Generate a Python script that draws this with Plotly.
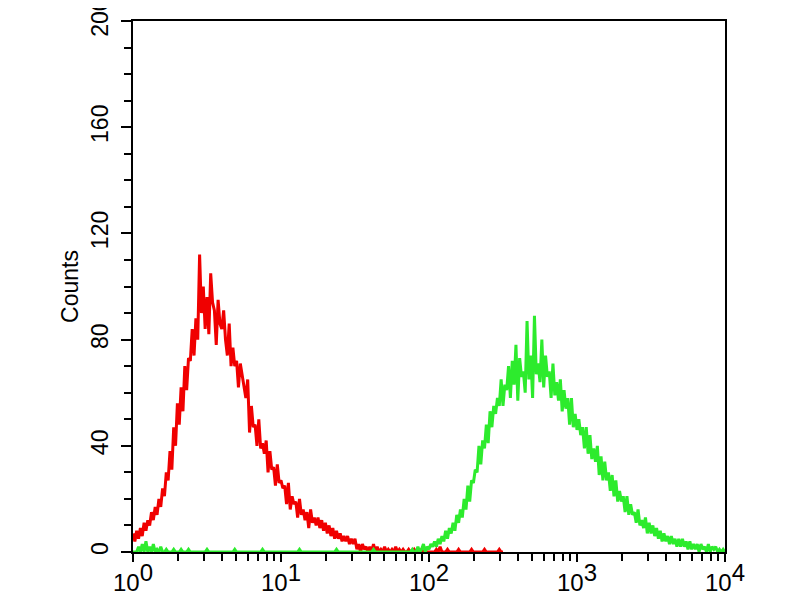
import plotly.graph_objects as go

# Histogram channels: 80 channels per decade, channel index -> intensity 10**(i/80)
channels_per_decade = 80

# Red histogram counts, channels 0..200
red_counts = [
    7, 4, 8, 5, 9, 6, 11, 8, 12, 10, 15, 12, 17, 14, 20, 17, 24, 21, 30, 27,
    38, 31, 47, 40, 56, 48, 62, 53, 70, 61, 73, 72, 84, 74, 88, 80, 112, 90, 100, 84,
    96, 82, 105, 94, 91, 78, 95, 86, 84, 91, 80, 74, 86, 70, 77, 70, 72, 62, 71, 66,
    63, 58, 65, 45, 55, 47, 48, 40, 50, 39, 41, 37, 42, 30, 38, 31, 32, 25, 33, 26,
    27, 24, 25, 18, 26, 16, 21, 18, 19, 13, 20, 14, 16, 12, 15, 9, 16, 11, 13, 10,
    13, 9, 12, 8, 11, 7, 10, 6, 9, 5, 8, 5, 7, 4, 6, 4, 6, 3, 5, 3,
    5, 1, 3, 0, 3, 1, 2, 0, 2, 0, 3, 0, 2, 0, 1, 0, 2, 0, 1, 0,
    1, 0, 2, 0, 1, 0, 1, 0, 0, 1, 0, 0, 1, 0, 0, 0, 1, 0, 0, 0,
    0, 0, 0, 0, 1, 0, 2, 0, 0, 0, 1, 0, 0, 0, 0, 0, 1, 0, 0, 0,
    0, 0, 0, 1, 0, 0, 0, 0, 0, 0, 1, 0, 0, 0, 0, 0, 0, 0, 1, 0,
    0,
]

# Green histogram counts, channels 0..320
green_counts = [
    0, 0, 0, 2, 0, 3, 0, 4, 0, 2, 0, 3, 0, 1, 0, 2, 0, 0, 1, 0,
    0, 0, 1, 0, 0, 0, 1, 0, 0, 0, 1, 0, 0, 0, 0, 0, 0, 0, 0, 0,
    1, 0, 0, 0, 0, 0, 0, 0, 0, 0, 0, 0, 0, 0, 0, 1, 0, 0, 0, 0,
    0, 0, 0, 0, 0, 0, 0, 0, 0, 0, 1, 0, 0, 0, 0, 0, 0, 0, 0, 0,
    0, 0, 0, 0, 0, 0, 0, 0, 0, 0, 1, 0, 0, 0, 0, 0, 0, 0, 0, 0,
    0, 0, 0, 0, 0, 0, 0, 0, 0, 0, 1, 0, 0, 0, 0, 0, 0, 0, 0, 0,
    0, 0, 0, 0, 0, 0, 0, 0, 0, 0, 1, 0, 0, 0, 0, 0, 0, 0, 0, 0,
    0, 0, 0, 0, 0, 0, 0, 0, 0, 0, 0, 1, 0, 0, 2, 0, 1, 3, 0, 2,
    1, 3, 2, 4, 2, 5, 3, 6, 4, 8, 5, 9, 7, 11, 8, 14, 11, 16, 13, 20,
    16, 25, 19, 27, 26, 31, 30, 40, 33, 42, 39, 48, 41, 53, 47, 55, 52, 58, 55, 65,
    55, 63, 61, 70, 58, 72, 63, 78, 57, 73, 66, 68, 60, 87, 65, 74, 58, 89, 67, 71,
    64, 80, 62, 74, 66, 68, 58, 71, 59, 64, 57, 65, 53, 61, 54, 58, 48, 58, 47, 52,
    46, 50, 44, 47, 39, 47, 37, 44, 35, 39, 34, 40, 29, 36, 27, 34, 27, 30, 23, 29,
    21, 27, 19, 23, 19, 21, 15, 21, 14, 18, 14, 15, 11, 16, 10, 12, 9, 13, 7, 11,
    7, 10, 6, 9, 5, 8, 4, 7, 4, 6, 3, 6, 3, 5, 2, 5, 2, 5, 2, 4,
    1, 4, 1, 3, 1, 3, 0, 3, 1, 2, 0, 3, 0, 2, 1, 2, 0, 1, 0, 1,
    0,
]

x_tick_vals = [1, 10, 100, 1000, 10000]
x_tick_exps = ["0", "1", "2", "3", "4"]
y_tick_vals = [0, 40, 80, 120, 160, 200]
y_title = "Counts"

red_x = [10 ** (i / channels_per_decade) for i in range(len(red_counts))]
green_x = [10 ** (i / channels_per_decade) for i in range(len(green_counts))]

x_tick_text = [
    "10<sup><span style='font-size:24px'>%s</span></sup>" % e for e in x_tick_exps
]
x_minor_vals = [m * 10 ** d for d in range(4) for m in range(2, 10)]

fig = go.Figure()
fig.add_trace(go.Scatter(x=red_x, y=red_counts, mode="lines",
                         line=dict(color="rgb(240,0,0)", width=3), showlegend=False))
fig.add_trace(go.Scatter(x=green_x, y=green_counts, mode="lines",
                         line=dict(color="rgb(45,235,45)", width=3), showlegend=False))

fig.update_layout(
    width=800, height=600,
    margin=dict(l=125, r=83, t=13, b=56, autoexpand=False),
    paper_bgcolor="white", plot_bgcolor="white",
    font=dict(family="Liberation Sans, Arial, sans-serif", color="black", size=22),
    showlegend=False,
)
fig.update_xaxes(
    type="log", range=[0, 4], automargin=False,
    showgrid=False, zeroline=False,
    showline=True, linecolor="black", linewidth=2, mirror=True,
    tickmode="array", tickvals=x_tick_vals, ticktext=x_tick_text,
    ticks="outside", ticklen=8, tickwidth=2, tickcolor="black",
    ticklabeloverflow="allow",
    tickfont=dict(size=24, family="Liberation Sans, Arial, sans-serif", color="black"),
    minor=dict(tickmode="array", tickvals=x_minor_vals, ticks="outside",
               ticklen=7, tickwidth=2, tickcolor="black"),
)
fig.update_yaxes(
    range=[0, 200], automargin=False,
    showgrid=False, zeroline=False,
    showline=True, linecolor="black", linewidth=2, mirror=True,
    tickmode="array", tickvals=y_tick_vals,
    ticks="outside", ticklen=10, tickwidth=2, tickcolor="black",
    tickangle=-90, ticklabelstandoff=4, ticklabeloverflow="allow",
    tickfont=dict(size=23, family="Liberation Sans, Arial, sans-serif", color="black"),
    minor=dict(dtick=10, ticks="outside", ticklen=7, tickwidth=2, tickcolor="black"),
    title=dict(text=y_title, font=dict(size=23), standoff=2),
)

fig.write_html("out.html")
